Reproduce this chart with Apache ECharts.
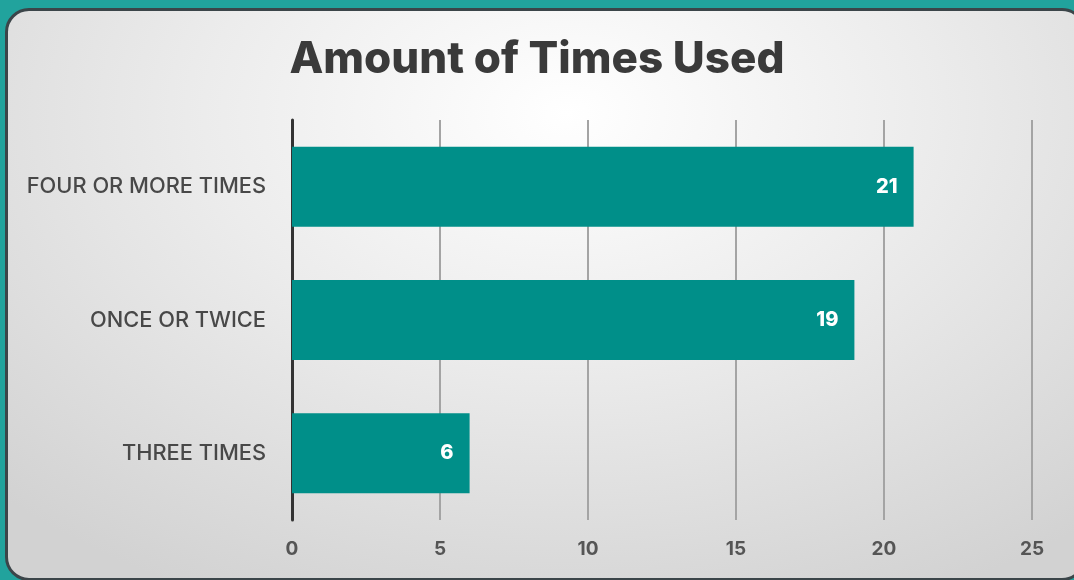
<!DOCTYPE html>
<html>
<head>
<meta charset="utf-8">
<script src="https://cdn.jsdelivr.net/npm/echarts@6/dist/echarts.min.js"></script>
<style>
  html, body { margin: 0; padding: 0; }
  body { width: 1074px; height: 580px; background: #21a39d; overflow: hidden; position: relative; }
  #card {
    position: absolute; left: 5px; top: 8px; width: 1075px; height: 567px;
    border: 3px solid #3b4549; border-radius: 24px;
    background: radial-gradient(ellipse 75% 95% at 52% 18%, #ffffff 0%, #ececec 45%, #d2d2d2 100%);
  }
  #chart { position: absolute; left: 0; top: 0; width: 1074px; height: 580px; }
</style>
</head>
<body>
<div id="card"></div>
<div id="chart"></div>
<script>
// data
var categories = ["THREE TIMES", "ONCE OR TWICE", "FOUR OR MORE TIMES"];
var counts = [6, 19, 21];
var axisTicks = [0, 5, 10, 15, 20, 25];

var myChart = echarts.init(document.getElementById('chart'));
var option = {
    title: {
        text: 'Amount of Times Used',
        left: 'center',
        top: 33,
        textStyle: { fontFamily: 'Inter', fontWeight: 800, fontSize: 44, color: '#3a3a3a' }
    },
    grid: { left: 292, right: 42, top: 120, bottom: 60, containLabel: false },
    xAxis: {
        type: 'value',
        min: axisTicks[0],
        max: axisTicks[axisTicks.length - 1],
        interval: 5,
        axisLine: { show: false },
        axisTick: { show: false },
        splitLine: { show: true, lineStyle: { color: '#a4a4a4', width: 2 } },
        axisLabel: { margin: 20, fontFamily: 'Inter', fontWeight: 700, fontSize: 19, color: '#555' }
    },
    yAxis: {
        type: 'category',
        data: categories,
        axisLine: { show: true, lineStyle: { color: '#333', width: 3 } },
        axisTick: { show: false },
        axisLabel: { margin: 26, fontFamily: 'Inter', fontWeight: 500, fontSize: 21.8, color: '#484848' }
    },
    series: [{
        type: 'bar',
        data: counts,
        barCategoryGap: '40%',
        itemStyle: { color: '#008f89' },
        label: {
            show: true,
            position: 'insideRight',
            distance: 16,
            color: '#fff',
            fontFamily: 'Inter',
            fontWeight: 800,
            fontSize: 20
        }
    }]
};
myChart.setOption(option);
</script>
</body>
</html>
